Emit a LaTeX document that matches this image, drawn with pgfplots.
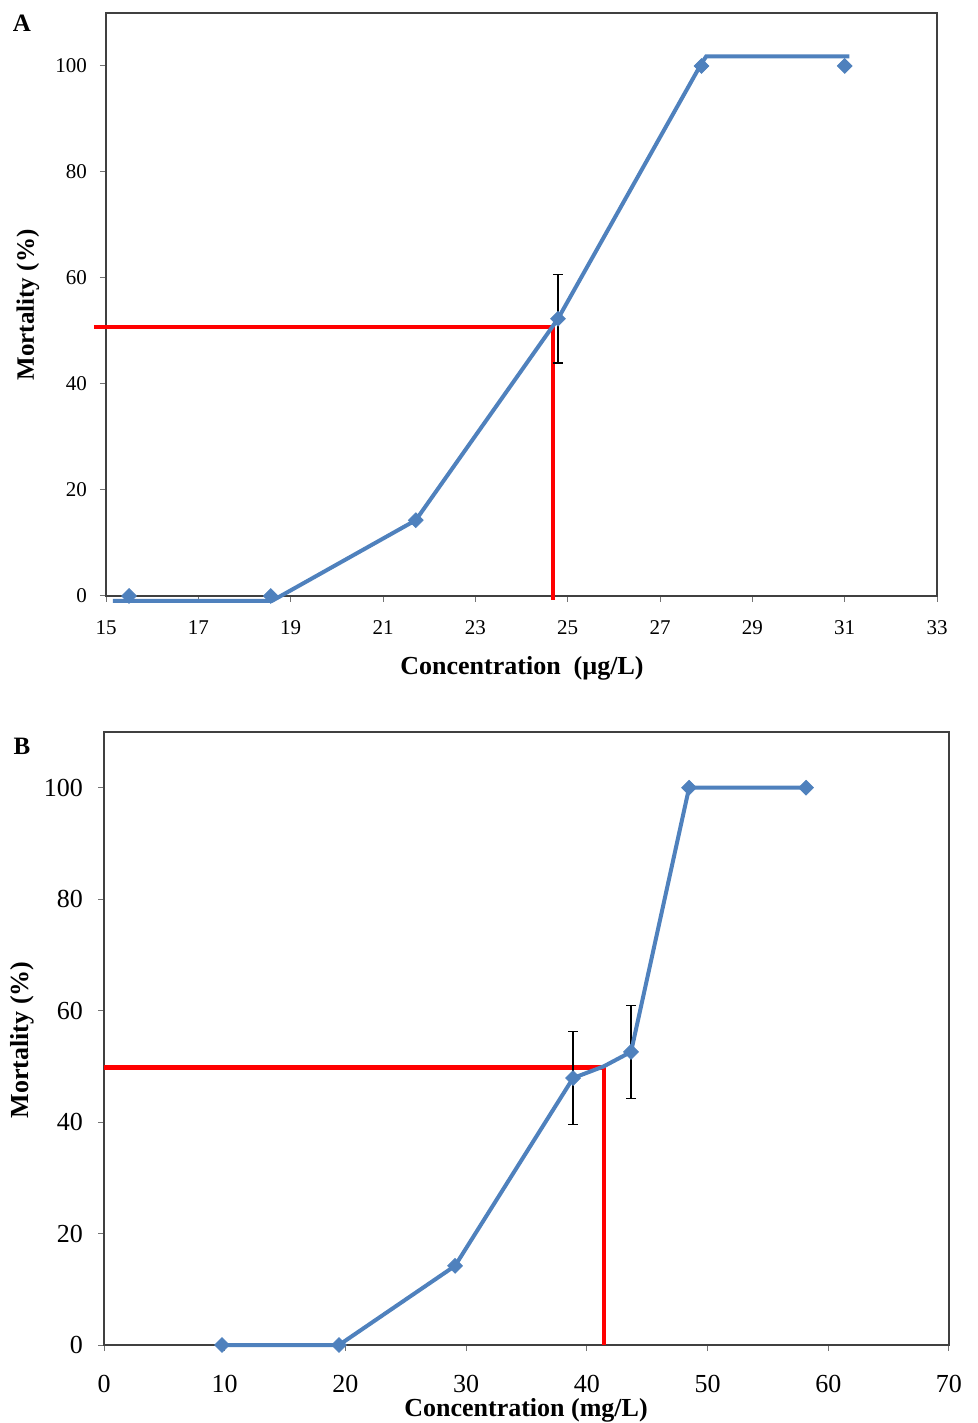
\documentclass[border=0pt]{standalone}
\usepackage{fontspec}
\setmainfont{Liberation Serif}
\usepackage{pgfplots}
\pgfplotsset{compat=1.18}
\definecolor{exblue}{HTML}{4F81BD}
\definecolor{exred}{HTML}{FF0000}
\begin{document}
\begin{tikzpicture}
\useasboundingbox (0pt,0pt) rectangle (489pt,711.5pt);
% ---------------- Panel A ----------------
\begin{axis}[
  at={(53pt,413.5pt)}, anchor=south west,
  scale only axis, width=415.5pt, height=291.5pt,
  xmin=15, xmax=33, ymin=0, ymax=110,
  xtick={15,17,...,33}, ytick={0,20,...,100},
  tick align=outside, xtick pos=bottom, ytick pos=left,
  major tick length=3pt,
  axis line style={black!75, line width=0.7pt},
  tick style={black!55, line width=0.5pt},
  ticklabel style={font=\fontsize{10.5}{12}\selectfont},
  xticklabel style={yshift=-6pt},
  yticklabel style={xshift=-3pt},
  /pgf/number format/assume math mode=true,
  clip=false,
]
\addplot[exred, line width=2.2pt] coordinates {(14.74,50.8) (24.68,50.8) (24.68,-0.75)};
\addplot[black, only marks, mark=none, error bars/.cd, y dir=both, y explicit,
  error bar style={black, line width=0.6pt},
  error mark options={rotate=90, mark size=2.5pt, black, line width=0.6pt}]
  coordinates {(24.79,52.3) +- (0,8.35)};
\addplot[exblue, line width=2pt, mark=none] coordinates {
  (15.15,-0.9) (18.6,-0.9) (21.71,14.3) (24.79,52.3) (27.9,100.5) (28.0,101.8) (31.1,101.8)};
\addplot[exblue, only marks, mark=square*, mark size=2.6pt, mark options={rotate=45, fill=exblue}] coordinates {
  (15.5,0) (18.57,0) (21.71,14.3) (24.79,52.3) (27.9,100) (31.0,100)};
\end{axis}
% ---------------- Panel B ----------------
\begin{axis}[
  at={(52pt,39pt)}, anchor=south west,
  scale only axis, width=422.5pt, height=306.5pt,
  xmin=0, xmax=70, ymin=0, ymax=110,
  xtick={0,10,...,70}, ytick={0,20,...,100},
  tick align=outside, xtick pos=bottom, ytick pos=left,
  major tick length=3pt,
  axis line style={black!75, line width=0.7pt},
  tick style={black!55, line width=0.5pt},
  ticklabel style={font=\fontsize{13}{15}\selectfont},
  xticklabel style={yshift=-8.5pt},
  yticklabel style={xshift=-4pt},
  /pgf/number format/assume math mode=true,
  clip=false,
]
\addplot[exred, line width=2.2pt] coordinates {(0,49.8) (41.4,49.8) (41.4,0)};
\addplot[black, only marks, mark=none, error bars/.cd, y dir=both, y explicit,
  error bar style={black, line width=0.6pt},
  error mark options={rotate=90, mark size=2.5pt, black, line width=0.6pt}]
  coordinates {(38.86,47.9) +- (0,8.35) (43.66,52.6) +- (0,8.3)};
\addplot[exblue, line width=2pt, mark=none] coordinates {
  (9.78,0) (19.47,0) (29.08,14.2) (38.86,47.9) (41.4,50.0) (43.66,52.6) (48.47,100) (58.16,100)};
\addplot[exblue, only marks, mark=square*, mark size=2.6pt, mark options={rotate=45, fill=exblue}] coordinates {
  (9.78,0) (19.47,0) (29.08,14.2) (38.86,47.9) (43.66,52.6) (48.47,100) (58.16,100)};
\end{axis}
% ---------------- labels ----------------
\node[font=\bfseries\fontsize{12.5}{14}\selectfont] at (11pt,700pt) {A};
\node[font=\bfseries\fontsize{13}{15}\selectfont] at (261pt,377.5pt) {Concentration\ \ (µg/L)};
\node[font=\bfseries\fontsize{12.5}{14}\selectfont, rotate=90] at (14pt,559pt) {Mortality (\%)};
\node[font=\bfseries\fontsize{12.5}{14}\selectfont] at (11pt,338.5pt) {B};
\node[font=\bfseries\fontsize{13}{15}\selectfont] at (263pt,6.5pt) {Concentration (mg/L)};
\node[font=\bfseries\fontsize{13}{15}\selectfont, rotate=90] at (11pt,191.5pt) {Mortality (\%)};
\end{tikzpicture}
\end{document}
